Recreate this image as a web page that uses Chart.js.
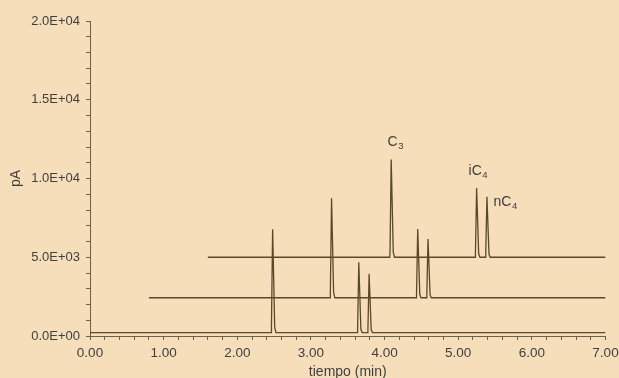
<!DOCTYPE html>
<html>
<head>
<meta charset="utf-8">
<script src="https://cdn.jsdelivr.net/npm/chart.js@4/dist/chart.umd.min.js"></script>
<style>
  html, body { margin: 0; padding: 0; background: #f5deb9; }
  #c { display: block; }
</style>
</head>
<body>
<canvas id="c" width="619" height="378"></canvas>
<script>
// ---- Data (time in min, signal in pA) ----
const trace1Time = [0.00, 2.46, 2.464, 2.48, 2.508, 2.525,
                    3.63, 3.634, 3.65, 3.678, 3.695,
                    3.77, 3.774, 3.79, 3.818, 3.835, 7.00];
const trace1Signal = [220, 220, 610, 6770, 550, 220,
                      220, 490, 4680, 440, 220,
                      220, 440, 3950, 410, 220, 220];

const trace2Time = [0.80, 3.26, 3.264, 3.28, 3.308, 3.325,
                    4.43, 4.434, 4.45, 4.478, 4.495,
                    4.57, 4.574, 4.59, 4.618, 4.635, 7.00];
const trace2Signal = [2430, 2430, 2810, 8750, 2750, 2430,
                      2430, 2690, 6790, 2650, 2430,
                      2430, 2650, 6150, 2620, 2430, 2430];

const trace3Time = [1.60, 4.07, 4.074, 4.09, 4.118, 4.135,
                    5.23, 5.234, 5.25, 5.278, 5.295,
                    5.37, 5.374, 5.39, 5.418, 5.435, 7.00];
const trace3Signal = [5000, 5000, 5370, 11200, 5310, 5000,
                      5000, 5260, 9400, 5220, 5000,
                      5000, 5230, 8840, 5190, 5000, 5000];

// peak labels (main text, subscript, anchor time, anchor signal)
const peakLabelText = ["C", "iC", "nC"];
const peakLabelSub = ["3", "4", "4"];
const peakLabelTime = [4.04, 5.14, 5.48];
const peakLabelSignal = [12050, 10200, 8250];

const xTickLabels = ["0.00", "1.00", "2.00", "3.00", "4.00", "5.00", "6.00", "7.00"];
const yTickLabels = ["0.0E+00", "5.0E+03", "1.0E+04", "1.5E+04", "2.0E+04"];
const xTitle = "tiempo (min)";
const yTitle = "pA";

// ---- helpers ----
const toPoints = (t, v) => t.map((x, i) => ({ x: x, y: v[i] }));
const LINE = '#5a482c';
const AXIS = '#6e5f48';
const TEXT = '#3f3f3f';
const FONT = '"Liberation Sans", Arial, sans-serif';

const bgPlugin = {
  id: 'bg',
  beforeDraw(chart) {
    const ctx = chart.ctx;
    ctx.save();
    ctx.fillStyle = '#f5deb9';
    ctx.fillRect(0, 0, chart.width, chart.height);
    ctx.restore();
  }
};

const textPlugin = {
  id: 'texts',
  afterDraw(chart) {
    const ctx = chart.ctx;
    const xs = chart.scales.x, ys = chart.scales.y, ca = chart.chartArea;
    ctx.save();
    ctx.fillStyle = TEXT;
    ctx.textBaseline = 'alphabetic';
    ctx.textAlign = 'left';
    for (let i = 0; i < peakLabelText.length; i++) {
      const px = xs.getPixelForValue(peakLabelTime[i]);
      const py = ys.getPixelForValue(peakLabelSignal[i]);
      ctx.font = '14px ' + FONT;
      ctx.fillText(peakLabelText[i], px, py);
      const w = ctx.measureText(peakLabelText[i]).width;
      ctx.font = '9.5px ' + FONT;
      ctx.fillText(peakLabelSub[i], px + w + 0.5, py + 3);
    }
    ctx.font = '14px ' + FONT;
    ctx.textAlign = 'center';
    ctx.textBaseline = 'middle';
    ctx.fillText(xTitle, (ca.left + ca.right) / 2, 372);
    ctx.translate(16, (ca.top + ca.bottom) / 2);
    ctx.rotate(-Math.PI / 2);
    ctx.fillText(yTitle, 0, 0);
    ctx.restore();
  }
};

function isNear(v, step) {
  return Math.abs(v / step - Math.round(v / step)) < 1e-6;
}

new Chart(document.getElementById('c'), {
  type: 'line',
  data: {
    datasets: [
      { data: toPoints(trace1Time, trace1Signal) },
      { data: toPoints(trace2Time, trace2Signal) },
      { data: toPoints(trace3Time, trace3Signal) }
    ].map(d => Object.assign(d, {
      borderColor: LINE, borderWidth: 1.3, pointRadius: 0, tension: 0, fill: false
    }))
  },
  options: {
    responsive: false,
    animation: false,
    events: [],
    layout: { padding: { left: 0, right: 0, top: 21, bottom: 0 } },
    plugins: { legend: { display: false }, tooltip: { enabled: false } },
    scales: {
      x: {
        type: 'linear', min: 0, max: 7,
        afterFit(s) { s.height = 42; s.paddingRight = 13.5; s.paddingLeft = 0; },
        border: { display: true, color: AXIS, width: 1 },
        grid: { drawOnChartArea: false, drawTicks: true, tickLength: 4, color: AXIS },
        ticks: {
          stepSize: 0.2, autoSkip: false, maxRotation: 0, padding: 5,
          color: TEXT, font: { family: FONT, size: 13.5 },
          callback(v) { return isNear(v, 1) ? xTickLabels[Math.round(v)] : ''; }
        }
      },
      y: {
        type: 'linear', min: 0, max: 20000,
        afterFit(s) { s.width = 90; },
        border: { display: true, color: AXIS, width: 1 },
        grid: { drawOnChartArea: false, drawTicks: true, tickLength: 4, color: AXIS },
        ticks: {
          stepSize: 1000, autoSkip: false, padding: 6,
          color: TEXT, font: { family: FONT, size: 13 },
          callback(v) { return isNear(v, 5000) ? yTickLabels[Math.round(v / 5000)] : ''; }
        }
      }
    }
  },
  plugins: [bgPlugin, textPlugin]
});
</script>
</body>
</html>
